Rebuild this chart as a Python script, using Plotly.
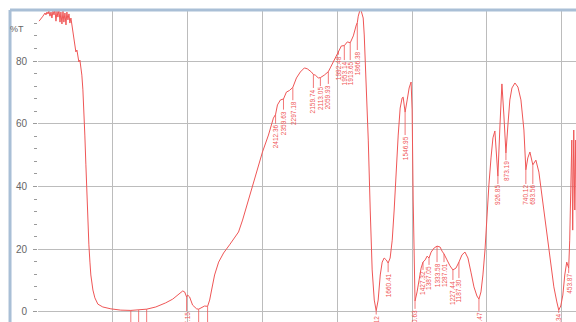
import numpy as np
import plotly.graph_objects as go

# FTIR transmittance spectrum (wavenumber in cm-1, %T)
wavenumber = [
    3993, 3980, 3967, 3953, 3947, 3940, 3933, 3927, 3920, 3913, 3907, 3900, 3893, 3887,
    3880, 3873, 3867, 3860, 3853, 3847, 3840, 3833, 3827, 3820, 3813, 3807, 3800, 3793,
    3787, 3780, 3773, 3767, 3760, 3753, 3747, 3740, 3733, 3727, 3720, 3713, 3707, 3700,
    3693, 3687, 3680, 3673, 3667, 3660, 3653, 3647, 3633, 3620, 3600, 3567, 3513, 3447,
    3379.82, 3347, 3327.46, 3280, 3273.91, 3213, 3147, 3100, 3060, 3033, 3020, 3007.15,
    3000, 2987, 2967, 2940, 2926.40, 2913, 2887, 2866.71, 2853, 2840, 2820, 2793, 2760,
    2720, 2687, 2660, 2633, 2593, 2547, 2500, 2460, 2427, 2412.36, 2400, 2380, 2359.63,
    2340, 2320, 2297.18, 2273, 2247, 2220, 2200, 2173, 2159.74, 2147, 2127, 2113.05, 2087,
    2067, 2059.93, 2047, 2027, 2007, 1992.48, 1973, 1953.14, 1933, 1913.65, 1893, 1873,
    1866.38, 1860, 1847, 1840, 1827, 1820, 1807, 1793, 1780, 1767, 1753, 1740.12, 1727,
    1713, 1700, 1687, 1673, 1660.41, 1647, 1633, 1620, 1607, 1593, 1580, 1567, 1560,
    1546.95, 1533, 1520, 1507, 1500, 1493, 1480.63, 1467, 1453, 1440, 1427.32, 1413, 1400,
    1387.05, 1373, 1353, 1333.58, 1313, 1300, 1287.01, 1267, 1247, 1227.44, 1207, 1187.30,
    1167, 1147, 1127, 1107, 1087, 1067, 1053.47, 1040, 1027, 1013, 1000, 987, 973, 960,
    947, 933, 926.85, 913, 900, 887, 873.19, 860, 847, 833, 813, 793, 773, 753, 740.12,
    727, 713, 693.56, 673, 653, 633, 613, 593, 573, 553, 533, 520.34, 507, 493, 480, 467,
    453.87, 447, 440, 433, 427, 420, 413, 407, 400,
]
transmittance = [
    92.7, 93.7, 94.3, 95.3, 94.7, 95.6, 95.0, 95.9, 94.3, 95.6, 93.7, 95.9, 94.7, 96.5,
    92.7, 95.9, 94.0, 96.5, 92.4, 95.6, 91.8, 95.9, 92.4, 95.3, 91.5, 95.6, 93.1, 95.0,
    92.1, 93.7, 91.5, 89.9, 87.3, 84.8, 82.9, 83.5, 81.0, 79.7, 80.3, 77.8, 75.5, 70.8,
    64.4, 56.4, 46.9, 37.3, 27.7, 21.4, 15.9, 11.8, 7.0, 4.5, 2.5, 1.6, 1.0, 0.6,
    0.5, 0.6, 0.6, 0.9, 0.9, 1.6, 2.9, 4.1, 5.7, 6.7, 6.4, 4.8,
    5.4, 4.8, 2.2, 1.0, 0.9, 1.3, 1.9, 1.8, 3.8, 7.0, 11.8, 15.9, 18.8,
    21.4, 23.6, 25.5, 29.3, 35.7, 43.7, 51.0, 56.4, 61.8, 63.0, 66.0, 67.6, 67.9,
    70.1, 70.6, 71.6, 74.6, 76.5, 77.8, 77.5, 76.5, 75.7, 75.5, 74.6, 74.7, 75.5,
    76.5, 76.6, 77.8, 79.7, 81.9, 83.2, 84.8, 84.9, 86.1, 85.8, 88.0, 91.5,
    92.2, 94.3, 96.5, 95.9, 93.7, 88.3, 73.9, 54.8, 32.5, 13.4, 3.8, 0.4, 3.8,
    11.8, 15.9, 17.2, 16.6, 15.6, 17.2, 22.9, 32.5, 45.3, 56.4, 65.0, 68.2, 68.5,
    63.7, 67.6, 71.4, 73.3, 64.4, 35.7, 3.5, 6.4, 10.8, 14.0, 15.9, 16.6, 17.8,
    17.2, 19.1, 20.4, 21.0, 20.7, 19.4, 18.5, 16.6, 14.7, 13.4, 14.0, 15.9,
    18.2, 19.1, 17.2, 12.7, 8.0, 5.1, 4.1, 6.4, 11.8, 19.8, 30.9, 40.5, 49.1, 55.5,
    57.7, 48.4, 43.3, 59.6, 72.7, 62.8, 50.7, 59.6, 67.6, 71.4, 73.0, 71.7, 67.6, 58.0, 45.3,
    49.1, 51.0, 46.9, 48.4, 44.6, 37.3, 29.3, 21.4, 14.0, 8.0, 3.2, 0.6, 1.9, 5.4, 11.8, 15.9,
    14.0, 22.9, 38.9, 54.8, 26.1, 58.0, 32.5, 54.8, 19.8,
]

# picked peaks and the %T level where each vertical label begins
peak_wavenumbers = [
    3379.82, 3327.46, 3273.91, 3007.15, 2926.40, 2866.71, 2412.36, 2359.63, 2297.18,
    2159.74, 2113.05, 2059.93, 1992.48, 1953.14, 1913.65, 1866.38, 1740.12, 1660.41,
    1546.95, 1480.63, 1427.32, 1387.05, 1333.58, 1287.01, 1227.44, 1187.30, 1053.47,
    926.85, 873.19, 740.12, 693.56, 520.34, 453.87,
]
label_tops = [
    -4.5, -4.5, -4.5, 0.3, -4.0, -4.0, 60.0, 64.5, 67.5,
    71.4, 72.0, 72.7, 82.0, 80.3, 80.3, 83.5, -0.8, 12.7,
    56.4, 1.0, 13.4, 15.0, 15.9, 15.9, 10.2, 10.8, 0.3,
    40.8, 48.4, 40.8, 40.8, -0.3, 12.4,
]

y_ticks = [0, 20, 40, 60, 80]
x_grid = [3500, 3000, 2500, 2000, 1500, 1000, 500]

RED = "#ef5656"
GRID = "#bcbcbc"

wn = np.array(wavenumber, dtype=float)
tr = np.array(transmittance, dtype=float)
order = np.argsort(wn)
peak_t = np.interp(peak_wavenumbers, wn[order], tr[order])

fig = go.Figure()
fig.add_trace(go.Scatter(x=wn, y=tr, mode="lines",
                         line=dict(color=RED, width=1), hoverinfo="skip"))

# leader lines from each picked peak down to its label
lx, ly = [], []
for w, t, top in zip(peak_wavenumbers, peak_t, label_tops):
    lx += [w, w, None]
    ly += [t, top, None]
fig.add_trace(go.Scatter(x=lx, y=ly, mode="lines",
                         line=dict(color=RED, width=0.8), hoverinfo="skip"))

for w, top in zip(peak_wavenumbers, label_tops):
    fig.add_annotation(x=w, y=top, text=f"{w:.2f}", showarrow=False,
                       textangle=-90, xanchor="center", yanchor="top",
                       borderpad=0,
                       font=dict(family="Liberation Sans", size=6.5, color=RED))

fig.add_annotation(xref="paper", yref="y", x=-0.022, y=90.2, text="%T",
                   showarrow=False, xanchor="right", yanchor="middle",
                   font=dict(family="Liberation Sans", size=9, color="#666666"))

# outer frame (left and top edges)
FRAME = "#a9bfd6"
fig.add_shape(type="line", xref="paper", yref="paper", x0=-0.052, x1=-0.052,
              y0=1.003, y1=-0.1, line=dict(color=FRAME, width=3), layer="above")
fig.add_shape(type="line", xref="paper", yref="paper", x0=-0.052, x1=1.1,
              y0=1.003, y1=1.003, line=dict(color=FRAME, width=3), layer="above")

fig.update_layout(
    width=576, height=322,
    margin=dict(l=38, r=0, t=11, b=0),
    paper_bgcolor="white", plot_bgcolor="white",
    showlegend=False,
    xaxis=dict(range=[4000, 405], tickvals=x_grid, showticklabels=False,
               ticks="", showgrid=True, gridcolor=GRID, gridwidth=1,
               zeroline=False, showline=False),
    yaxis=dict(range=[-3.19, 95.94], tickvals=y_ticks, showgrid=True,
               gridcolor=GRID, gridwidth=1, zeroline=False, showline=False,
               ticks="outside", ticklen=4, tickcolor="#9a9a9a",
               ticklabelstandoff=4,
               tickfont=dict(family="Liberation Sans", size=10, color="#666666"),
               minor=dict(dtick=4, tick0=0, ticks="outside", ticklen=3,
                          tickcolor="#9a9a9a", showgrid=False)),
)

fig.write_html("out.html")
